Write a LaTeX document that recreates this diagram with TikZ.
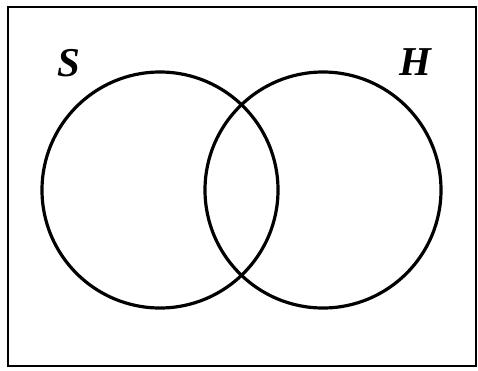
\documentclass[tikz,border=0pt]{standalone}
\usepackage{fontspec}
\setmainfont{Liberation Serif}
\usetikzlibrary{positioning}

\begin{document}
\begin{tikzpicture}[x=1pt, y=-1pt, line width=3.2pt,
    setlabel/.style={font=\fontsize{41}{41}\selectfont\bfseries\itshape}]
    \useasboundingbox (0,0) rectangle (478,370);
    \draw[line width=2.2pt] (8,7) rectangle (476,366);

    \draw (160,190) circle (118);
    \draw (323,190) circle (118);

    \node[setlabel] (S) at (69,63) {S};
    \node[setlabel] (H) at (415,62) {H};
\end{tikzpicture}
\end{document}
